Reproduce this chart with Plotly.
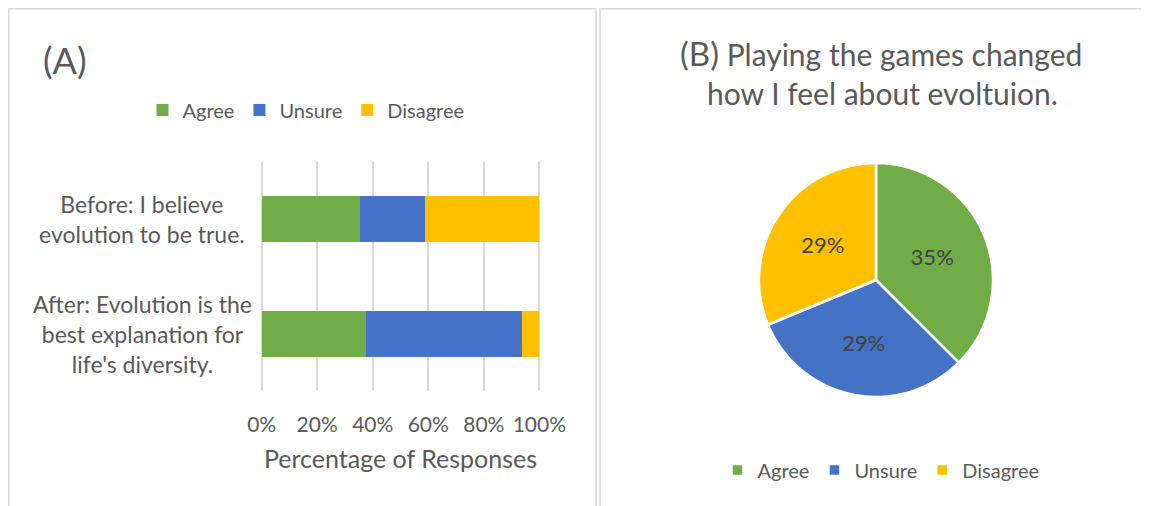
import plotly.graph_objects as go

# panel A: share of responses (%) per statement
statements = ["Before: I believe<br>evolution to be true.",
              "After: Evolution is the<br>best explanation for<br>life's diversity."]
responses = ["Agree", "Unsure", "Disagree"]
agree_pct = [35.3, 37.5]
unsure_pct = [23.5, 56.25]
disagree_pct = [41.2, 6.25]

# panel B: pie
pie_values = [6, 5, 5]
pie_text = ["35%", "29%", "29%"]

colors = ["#70ad47", "#4472c4", "#ffc000"]
TXT = "#595959"
FONT = "Lato, 'Open Sans', sans-serif"
# page body has an 8px margin, so the figure is a bit smaller and offset
OFF = 8
W, H = 1149 - OFF, 506 - OFF


def px(x):
    return (x - OFF) / W


def py(y):
    return 1 - (y - OFF) / H


fig = go.Figure()
for name, vals, c in zip(responses, [agree_pct, unsure_pct, disagree_pct], colors):
    fig.add_trace(go.Bar(
        y=statements, x=vals, name=name, orientation="h",
        marker=dict(color=c, line_width=0),
        legend="legend",
    ))

fig.add_trace(go.Pie(
    labels=responses, values=pie_values, text=pie_text,
    textinfo="text", sort=False, direction="clockwise", rotation=0,
    marker=dict(colors=colors, line=dict(color="white", width=2.5)),
    textfont=dict(color="#404040", size=22),
    insidetextorientation="horizontal",
    domain=dict(x=[px(759), px(993)], y=[py(397), py(163)]),
    legend="legend2",
))

# category labels drawn centered like the original
for s in statements:
    fig.add_annotation(x=px(142), xref="paper", y=s, yref="y", text=s,
                       showarrow=False, align="center", xanchor="center",
                       font=dict(size=23, color=TXT))

fig.add_annotation(x=px(41), y=py(60), xref="paper", yref="paper", text="(A)",
                   showarrow=False, xanchor="left", yanchor="middle",
                   font=dict(size=36, color=TXT))
fig.add_annotation(x=px(881), y=py(53), xref="paper", yref="paper",
                   text="<span style='font-size:33px'>(B)</span> Playing the games changed",
                   showarrow=False, xanchor="center", yanchor="middle",
                   font=dict(size=30, color=TXT))
fig.add_annotation(x=px(882), y=py(93), xref="paper", yref="paper",
                   text="how I feel about evoltuion.",
                   showarrow=False, xanchor="center", yanchor="middle",
                   font=dict(size=30, color=TXT))

# panel borders
border = dict(color="#d9d9d9", width=1.5)
fig.add_shape(type="rect", xref="paper", yref="paper", x0=px(8.8), x1=px(596),
              y0=-0.05, y1=py(8.8), line=border, layer="below")
fig.add_shape(type="rect", xref="paper", yref="paper", x0=px(600), x1=1.05,
              y0=-0.05, y1=py(8.8), line=border, layer="below")

fig.update_layout(
    width=W, height=H, margin=dict(l=0, r=0, t=0, b=0, autoexpand=False),
    paper_bgcolor="white", plot_bgcolor="white",
    barmode="stack", bargap=0.6,
    font=dict(family=FONT, color=TXT, size=20),
    legend=dict(orientation="h", traceorder="normal", x=px(306), y=py(110),
                xanchor="center", yanchor="middle", font=dict(size=20, color=TXT)),
    legend2=dict(orientation="h", traceorder="normal", x=px(881), y=py(470),
                 xanchor="center", yanchor="middle", font=dict(size=20, color=TXT)),
    xaxis=dict(domain=[px(260), px(541)], range=[-0.6, 100.6], dtick=20, ticksuffix="%",
               showgrid=True, gridcolor="#d9d9d9", gridwidth=2, zeroline=False,
               showline=False, ticks="", ticklabelstandoff=19,
               tickfont=dict(size=21, color=TXT),
               title=dict(text="Percentage of Responses", standoff=15,
                          font=dict(size=25, color=TXT))),
    yaxis=dict(domain=[py(391), py(162)], autorange="reversed", showticklabels=False,
               showgrid=False, zeroline=False, showline=False),
)

fig.write_html("out.html")
